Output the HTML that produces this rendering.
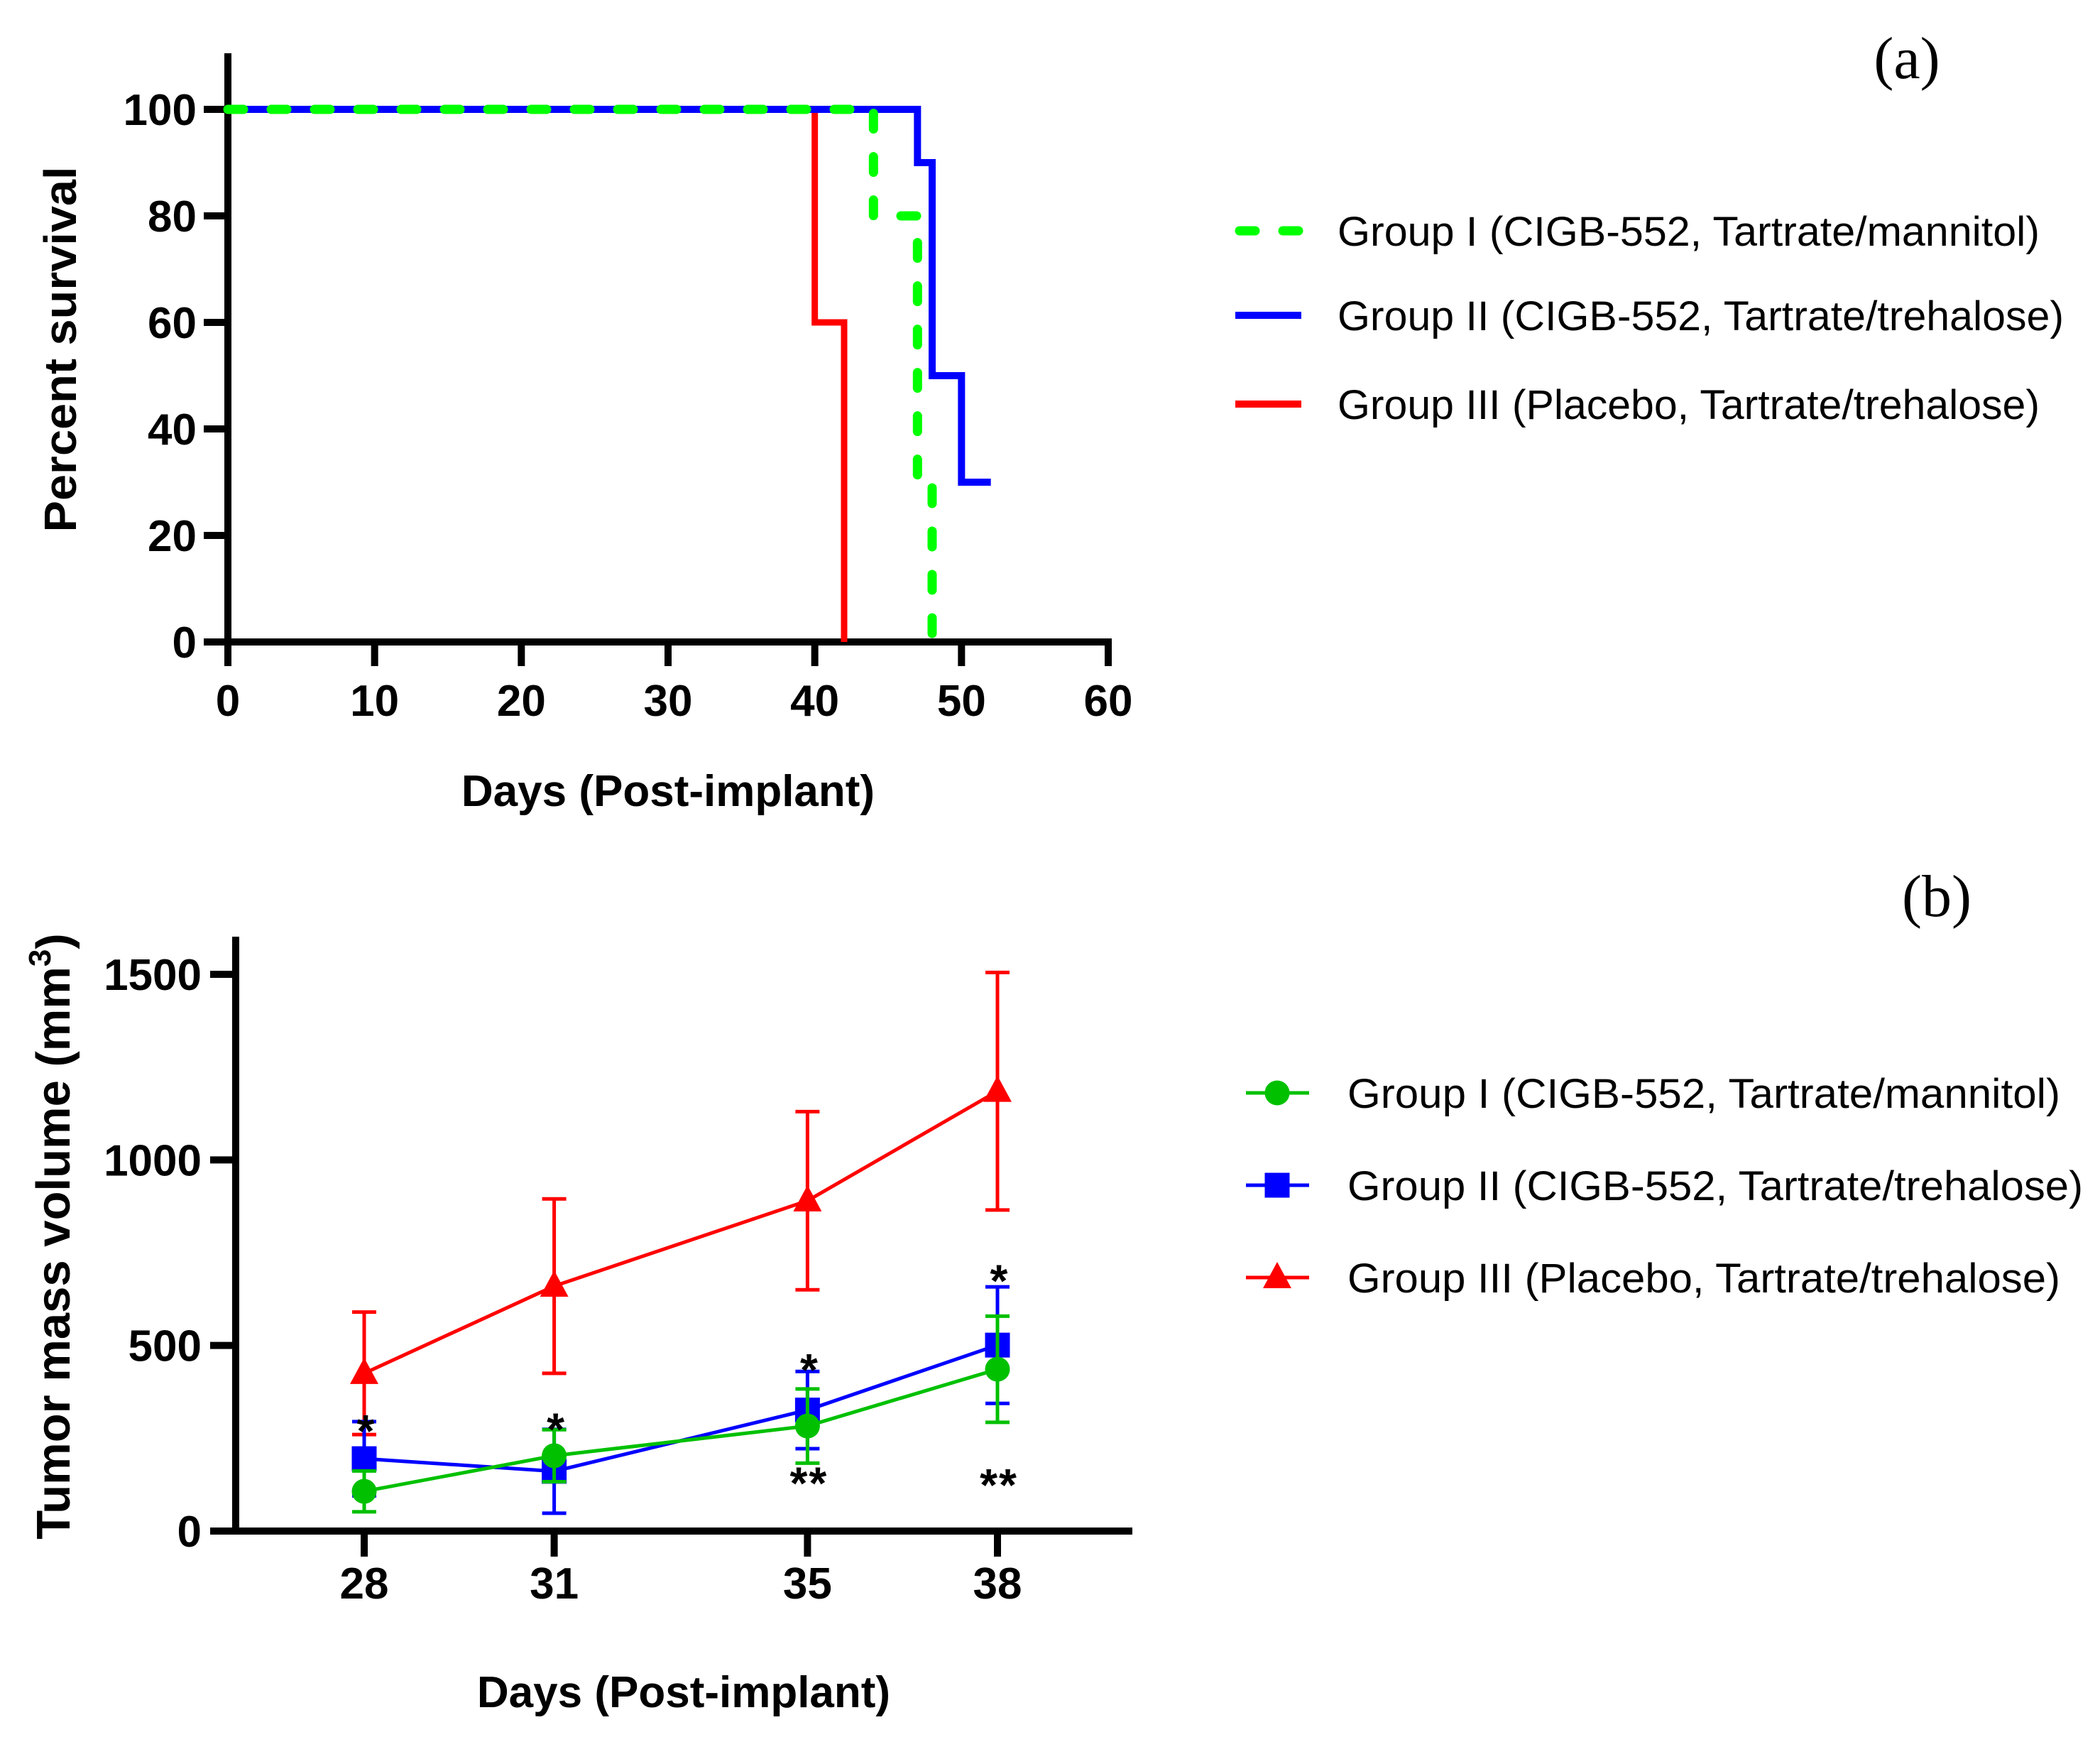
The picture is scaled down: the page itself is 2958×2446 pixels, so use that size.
<!DOCTYPE html>
<html><head><meta charset="utf-8"><style>
html,body{margin:0;padding:0;background:#fff}
svg{display:block}
text{font-family:"Liberation Sans",Arial,sans-serif}
text.serif{font-family:"Liberation Serif","Times New Roman",serif}
</style></head><body>
<svg id="fig" width="2958" height="2446" viewBox="0 0 2958 2446" xmlns="http://www.w3.org/2000/svg">
<rect width="2958" height="2446" fill="#fff"/>
<g id="chartA"></g>
<g id="chartB"></g>
</svg>
<script>
// ---- Chart (a) data ----
const aXTicks = [0, 10, 20, 30, 40, 50, 60];
const aYTicks = [0, 20, 40, 60, 80, 100];
const g1Times = [0, 44, 47, 48];
const g1Surv  = [100, 80, 30, 0];
const g2Times = [0, 47, 48, 50, 52];
const g2Surv  = [100, 90, 50, 30, 30];
const g3Times = [0, 40, 42];
const g3Surv  = [100, 60, 0];
const aLegend = ["Group I (CIGB-552, Tartrate/mannitol)", "Group II (CIGB-552, Tartrate/trehalose)", "Group III (Placebo, Tartrate/trehalose)"];

// ---- Chart (b) data ----
const bDays = [28, 31, 35, 38];
const bYTicks = [0, 500, 1000, 1500];
const bG1Mean = [107, 203, 283, 436];
const bG1Err  = [55, 70, 100, 143];
const bG2Mean = [195, 161, 326, 501];
const bG2Err  = [100, 113, 104, 157];
const bG3Mean = [425, 660, 890, 1185];
const bG3Err  = [165, 235, 240, 320];
const starTopVals = [300, 305, 465, 705];
const starTopLabels = ["*", "*", "*", "*"];
const starBotVals = [160, null, 160, 155];
const starBotLabels = ["", "", "**", "**"];

const NS = "http://www.w3.org/2000/svg";
function mk(parent, tag, attrs, txt) {
  const e = document.createElementNS(NS, tag);
  for (const k in attrs) e.setAttribute(k, attrs[k]);
  if (txt !== undefined) e.textContent = txt;
  parent.appendChild(e);
  return e;
}

// ===== Chart A =====
(function(){
  const g = document.getElementById("chartA");
  const X = d => 321 + (d - 0) * (1561 - 321) / 60;
  const Y = v => 904 - v * (904 - 154) / 100;
  let e = mk(g, "line", {x1:321, y1:75, x2:321, y2:909, stroke:"#000", "stroke-width":10});
   
  e = mk(g, "line", {x1:287, y1:904, x2:1566, y2:904, stroke:"#000", "stroke-width":10});
   
  aYTicks.forEach(v => {
    const t = mk(g, "line", {x1:287, y1:Y(v), x2:321, y2:Y(v), stroke:"#000", "stroke-width":10});
     
    const l = mk(g, "text", {x:277, y:Y(v)+22, "text-anchor":"end", "font-size":62, "font-weight":"bold"}, String(v));
     
  });
  aXTicks.forEach(v => {
    const t = mk(g, "line", {x1:X(v), y1:904, x2:X(v), y2:938, stroke:"#000", "stroke-width":10});
     
    const l = mk(g, "text", {x:X(v), y:1008, "text-anchor":"middle", "font-size":62, "font-weight":"bold"}, String(v));
     
  });
  e = mk(g, "text", {x:941, y:1135, "text-anchor":"middle", "font-size":62, "font-weight":"bold"}, "Days (Post-implant)");
   
  e = mk(g, "text", {x:0, y:0, transform:"translate(107,492) rotate(-90)", "text-anchor":"middle", "font-size":64, "font-weight":"bold", textLength:515, lengthAdjust:"spacingAndGlyphs"}, "Percent survival");
   

  function step(times, surv) {
    let d = "M" + X(times[0]) + "," + Y(surv[0]);
    for (let i = 1; i < times.length; i++) {
      d += " L" + X(times[i]) + "," + Y(surv[i-1]) + " L" + X(times[i]) + "," + Y(surv[i]);
    }
    return d;
  }
  e = mk(g, "path", {d:step(g3Times, g3Surv), fill:"none", stroke:"#ff0000", "stroke-width":9});
   
  e = mk(g, "path", {d:step(g2Times, g2Surv), fill:"none", stroke:"#0000ff", "stroke-width":10});
   
  e = mk(g, "path", {d:step(g1Times, g1Surv), fill:"none", stroke:"#00ff00", "stroke-width":13, "stroke-dasharray":"22 39", "stroke-linecap":"round"});
   

  const ly = [325, 444, 569];
  const lw = [989, 1023, 989];
  const styles = [
    {stroke:"#00ff00", "stroke-width":13, "stroke-dasharray":"22 39", "stroke-linecap":"round"},
    {stroke:"#0000ff", "stroke-width":10},
    {stroke:"#ff0000", "stroke-width":10}
  ];
  aLegend.forEach((s, i) => {
    const sx = i === 0 ? 1746 : 1740;
    const ln = mk(g, "line", Object.assign({x1:sx, y1:ly[i], x2:1833, y2:ly[i]}, styles[i]));
     
    const t = mk(g, "text", {x:1884, y:ly[i]+21, "font-size":58, textLength:lw[i], lengthAdjust:"spacingAndGlyphs"}, s);
     
  });
  e = mk(g, "text", {x:2686, y:110, "text-anchor":"middle", "font-size":84, "class":"serif"}, "(a)");
   
})();

// ===== Chart B =====
(function(){
  const g = document.getElementById("chartB");
  const X = d => 513 + (d - 28) * (1405 - 513) / 10;
  const Y = v => 2156 - v * (2156 - 1372) / 1500;
  let e = mk(g, "line", {x1:332, y1:1319, x2:332, y2:2161, stroke:"#000", "stroke-width":10});
   
  e = mk(g, "line", {x1:296, y1:2156, x2:1595, y2:2156, stroke:"#000", "stroke-width":10});
   
  bYTicks.forEach(v => {
    const t = mk(g, "line", {x1:296, y1:Y(v), x2:332, y2:Y(v), stroke:"#000", "stroke-width":10});
     
    const l = mk(g, "text", {x:284, y:Y(v)+22, "text-anchor":"end", "font-size":62, "font-weight":"bold"}, String(v));
     
  });
  bDays.forEach(v => {
    const t = mk(g, "line", {x1:X(v), y1:2156, x2:X(v), y2:2192, stroke:"#000", "stroke-width":10});
     
    const l = mk(g, "text", {x:X(v), y:2251, "text-anchor":"middle", "font-size":62, "font-weight":"bold"}, String(v));
     
  });
  e = mk(g, "text", {x:963, y:2404, "text-anchor":"middle", "font-size":62, "font-weight":"bold"}, "Days (Post-implant)");
   
  const yt = mk(g, "text", {x:0, y:0, transform:"translate(98,1741) rotate(-90)", "text-anchor":"middle", "font-size":67, "font-weight":"bold"});
   
  mk(yt, "tspan", {}, "Tumor mass volume (mm");
  mk(yt, "tspan", {dy:-27, "font-size":44}, "3");
  mk(yt, "tspan", {dy:27}, ")");

  const series = [
    {mean:bG3Mean, err:bG3Err, color:"#ff0000", marker:"tri", name:"group-iii"},
    {mean:bG2Mean, err:bG2Err, color:"#0000ff", marker:"sq", name:"group-ii"},
    {mean:bG1Mean, err:bG1Err, color:"#00c000", marker:"circ", name:"group-i"}
  ];
  function marker(parent, type, x, y, color) {
    let m;
    if (type === "circ") m = mk(parent, "circle", {cx:x, cy:y, r:17.5, fill:color});
    else if (type === "sq") m = mk(parent, "rect", {x:x-17.5, y:y-17.5, width:35, height:35, fill:color});
    else m = mk(parent, "polygon", {points:(x)+","+(y-22)+" "+(x-20)+","+(y+15)+" "+(x+20)+","+(y+15), fill:color});
    return m;
  }
  series.forEach(s => {
    const sg = mk(g, "g", {});
     
    bDays.forEach((d, i) => {
      const x = X(d), yTop = Y(s.mean[i] + s.err[i]), yBot = Y(s.mean[i] - s.err[i]);
      const eb = mk(sg, "path", {d:"M"+x+","+yTop+" L"+x+","+yBot+" M"+(x-17)+","+yTop+" L"+(x+17)+","+yTop+" M"+(x-17)+","+yBot+" L"+(x+17)+","+yBot, stroke:s.color, "stroke-width":5, fill:"none"});
       
    });
    const pts = bDays.map((d, i) => X(d) + "," + Y(s.mean[i])).join(" ");
    const pl = mk(sg, "polyline", {points:pts, fill:"none", stroke:s.color, "stroke-width":5});
     
    bDays.forEach((d, i) => {
      const m = marker(sg, s.marker, X(d), Y(s.mean[i]), s.color);
       
    });
  });
  bDays.forEach((d, i) => {
    if (starTopLabels[i]) {
      const t = mk(g, "text", {x:X(d)+2, y:Y(starTopVals[i])+38, "text-anchor":"middle", "font-size":64, "font-weight":"bold"}, starTopLabels[i]);
       
    }
    if (starBotLabels[i]) {
      const t = mk(g, "text", {x:X(d)+2, y:Y(starBotVals[i])+38, "text-anchor":"middle", "font-size":64, "font-weight":"bold", "letter-spacing":2}, starBotLabels[i]);
       
    }
  });
  const ly = [1539, 1669, 1799];
  const lw = [1004, 1036, 1004];
  const cols = ["#00c000", "#0000ff", "#ff0000"];
  const mks = ["circ", "sq", "tri"];
  aLegend.forEach((s, i) => {
    const ln = mk(g, "line", {x1:1755, y1:ly[i], x2:1844, y2:ly[i], stroke:cols[i], "stroke-width":5});
     
    const m = marker(g, mks[i], 1799, ly[i], cols[i]);
     
    const t = mk(g, "text", {x:1898, y:ly[i]+21, "font-size":58, textLength:lw[i], lengthAdjust:"spacingAndGlyphs"}, s);
     
  });
  e = mk(g, "text", {x:2728, y:1290, "text-anchor":"middle", "font-size":84, "class":"serif"}, "(b)");
   
})();
</script>
</body></html>
